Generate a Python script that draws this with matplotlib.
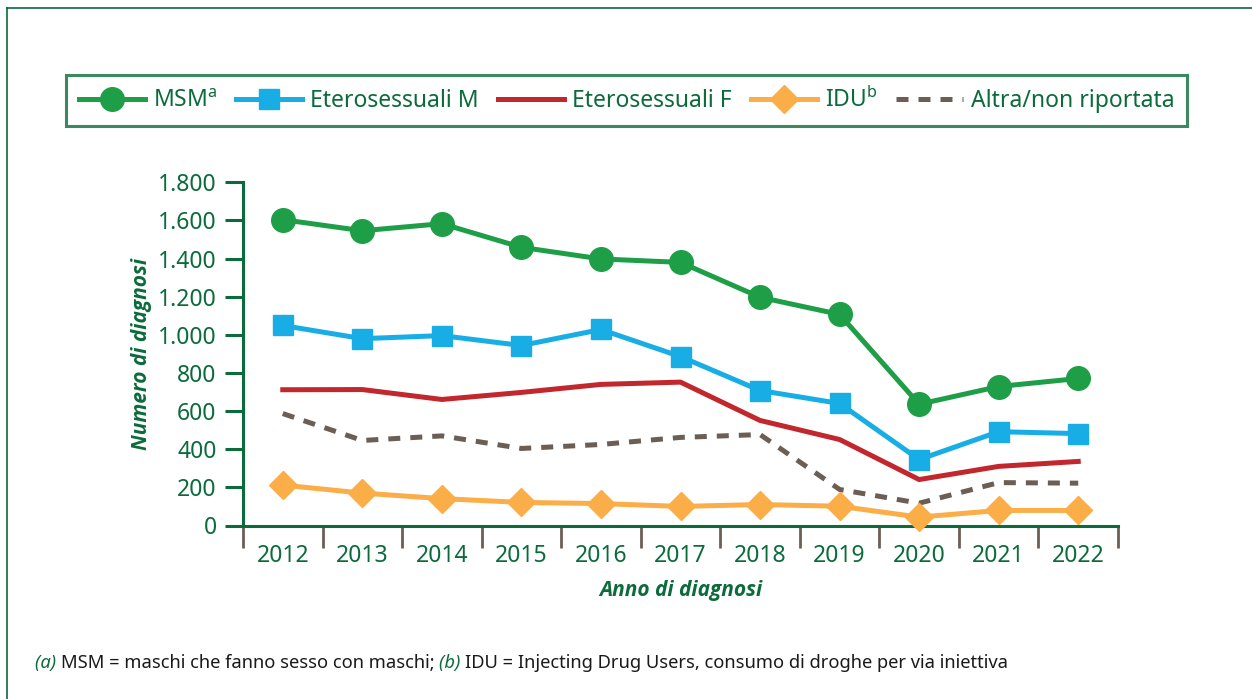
import numpy as np
import matplotlib
matplotlib.use("Agg")
import matplotlib.pyplot as plt
from matplotlib.ticker import FuncFormatter, FixedLocator
from matplotlib.lines import Line2D

plt.rcParams['font.family'] = ['Noto Sans', 'DejaVu Sans']
plt.rcParams['mathtext.fontset'] = 'custom'
plt.rcParams['mathtext.rm'] = 'Noto Sans'

years = [2012, 2013, 2014, 2015, 2016, 2017, 2018, 2019, 2020, 2021, 2022]
msm = [1604, 1546, 1583, 1459, 1398, 1380, 1197, 1107, 636, 729, 771]
etero_m = [1049, 980, 996, 944, 1028, 886, 708, 640, 346, 492, 482]
etero_f = [712, 713, 661, 698, 740, 752, 551, 451, 241, 310, 336]
idu = [212, 170, 141, 121, 115, 100, 110, 101, 44, 79, 79]
altra = [587, 446, 470, 404, 425, 462, 477, 189, 117, 225, 222]

GREEN_TXT = '#0b6b3a'
C_MSM = '#1f9e48'
C_ETM = '#19ade6'
C_ETF = '#c1272d'
C_IDU = '#fbad47'
C_ALT = '#6b5e55'

fig = plt.figure(figsize=(12.52, 6.99), dpi=100)
W, H = 1252, 699
ax = fig.add_axes([243 / W, 1 - 525.5 / H, (1118 - 243) / W, (525.5 - 182.3) / H])

lw = 3.6
ax.plot(years, altra, color=C_ALT, lw=lw, dashes=(2.4, 2.0), zorder=2)
ax.plot(years, idu, color=C_IDU, lw=lw, marker='D', ms=14, zorder=3)
ax.plot(years, etero_f, color=C_ETF, lw=lw, zorder=3)
ax.plot(years, etero_m, color=C_ETM, lw=lw, marker='s', ms=15, zorder=4)
ax.plot(years, msm, color=C_MSM, lw=lw, marker='o', ms=17, zorder=5)

ax.set_xlim(years[0] - 0.5, years[-1] + 0.5)
ax.set_ylim(0, 1800)
ax.set_yticks(range(0, 1801, 200))
ax.yaxis.set_major_formatter(FuncFormatter(lambda v, p: f"{int(v):,}".replace(',', '.')))
ax.set_xticks(years)
ax.xaxis.set_minor_locator(FixedLocator([y - 0.5 for y in years] + [years[-1] + 0.5]))

for s in ['top', 'right']:
    ax.spines[s].set_visible(False)
for s in ['left', 'bottom']:
    ax.spines[s].set_color(GREEN_TXT)
    ax.spines[s].set_linewidth(2.2)
ax.spines['left'].set_zorder(1)

ax.tick_params(axis='y', length=13, width=2.2, color=GREEN_TXT, labelcolor=GREEN_TXT,
               labelsize=16.5, pad=6)
ax.tick_params(axis='x', which='major', length=0, labelcolor=GREEN_TXT, labelsize=16.5, pad=13)
ax.tick_params(axis='x', which='minor', length=16, width=2, color=C_ALT)
for l in ax.lines:
    l.set_clip_on(False)

lab_font = ['Open Sans', 'DejaVu Sans']
ax.set_ylabel('Numero di diagnosi', fontsize=15, fontweight='bold', fontstyle='italic',
              family=lab_font, color=GREEN_TXT, labelpad=4)
ax.set_xlabel('Anno di diagnosi', fontsize=15, fontweight='bold', fontstyle='italic',
              family=lab_font, color=GREEN_TXT, labelpad=9)

handles = [
    Line2D([], [], color=C_MSM, lw=lw, marker='o', ms=17),
    Line2D([], [], color=C_ETM, lw=lw, marker='s', ms=15),
    Line2D([], [], color=C_ETF, lw=lw),
    Line2D([], [], color=C_IDU, lw=lw, marker='D', ms=14),
    Line2D([], [], color=C_ALT, lw=lw, dashes=(2.4, 2.0)),
]
labels = ['MSM$^{\\mathrm{a}}$', 'Eterosessuali M', 'Eterosessuali F', 'IDU$^{\\mathrm{b}}$',
          'Altra/non riportata']
leg = fig.legend(handles, labels, loc='lower left', ncol=5, mode='expand',
                 bbox_to_anchor=(66 / W, 1 - 126 / H, (1187 - 66) / W, 61 / H),
                 borderaxespad=0, fontsize=16.5, handlelength=2.9, handletextpad=0.35,
                 columnspacing=0.8, fancybox=False, frameon=True, borderpad=0.55)
leg.get_frame().set_edgecolor(GREEN_TXT)
leg.get_frame().set_linewidth(2.2)
for t in leg.get_texts():
    t.set_color(GREEN_TXT)

# outer frame (top and left edges)
fig.add_artist(Line2D([7 / W, 1], [1 - 8 / H, 1 - 8 / H], transform=fig.transFigure,
                      color=GREEN_TXT, lw=1.2))
fig.add_artist(Line2D([7 / W, 7 / W], [0, 1 - 8 / H], transform=fig.transFigure,
                      color=GREEN_TXT, lw=1.2))

# footnote built from pieces
pieces = [('(a) ', GREEN_TXT, 'italic'),
          ('MSM = maschi che fanno sesso con maschi; ', '#1a1a1a', 'normal'),
          ('(b) ', GREEN_TXT, 'italic'),
          ('IDU = Injecting Drug Users, consumo di droghe per via iniettiva', '#1a1a1a', 'normal')]
renderer = fig.canvas.get_renderer()
x = 35 / W
for txt, col, st in pieces:
    t = fig.text(x, 1 - 663 / H, txt, fontsize=13.2, color=col, fontstyle=st, va='center', ha='left')
    bb = t.get_window_extent(renderer=renderer)
    x += bb.width / W

fig.savefig('out.png', dpi=100)
